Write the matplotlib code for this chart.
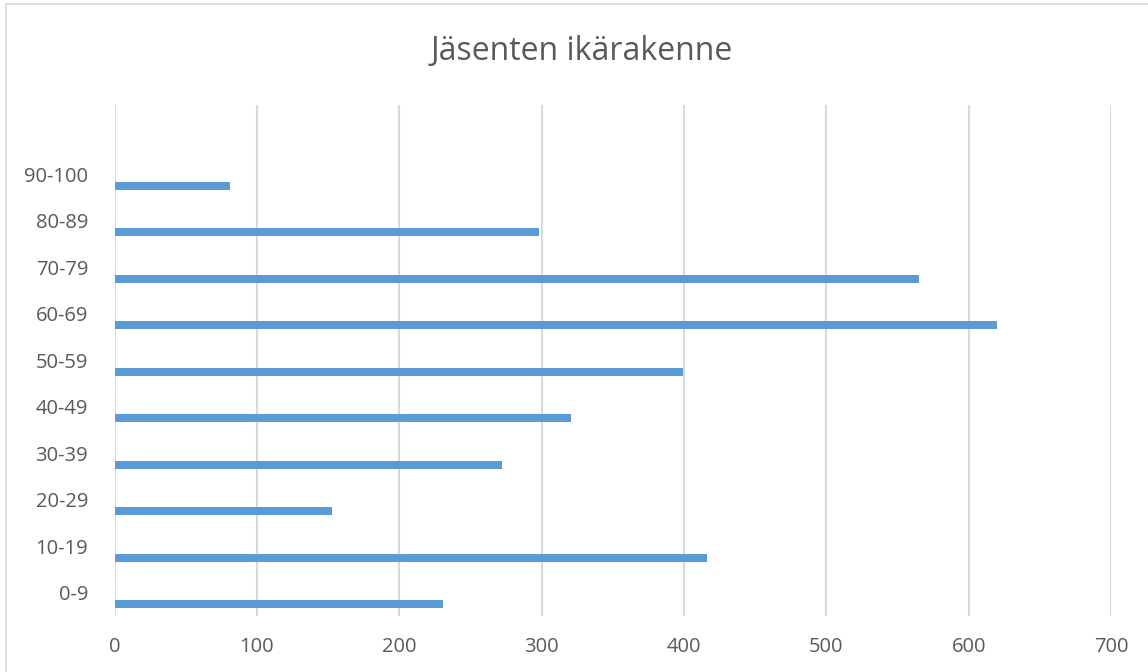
import matplotlib.pyplot as plt
from matplotlib.patches import Rectangle

plt.rcParams['font.family'] = ['Open Sans', 'DejaVu Sans']

# age groups and member counts
groups = ['0-9', '10-19', '20-29', '30-39', '40-49', '50-59', '60-69', '70-79', '80-89', '90-100']
counts = [231, 416, 153, 272, 321, 399, 620, 565, 298, 81]
xticks = [0, 100, 200, 300, 400, 500, 600, 700]

grey = '#595959'

fig = plt.figure(figsize=(11.48, 6.72), dpi=100)
fig.patches.append(Rectangle((6 / 1148, -0.01), 1.2, 1 - 4 / 672 + 0.01,
                             transform=fig.transFigure, fill=False,
                             edgecolor='#D9D9D9', linewidth=1.2))
ax = fig.add_axes([114.5 / 1148, 1 - 616 / 672, (1111 - 114.5) / 1148, (616 - 104.5) / 672])

pos = list(range(len(groups)))
ax.barh([p - 0.25 for p in pos], counts, height=0.17, color='#5B9BD5', zorder=3)

ax.set_xlim(0, 700)
ax.set_ylim(-0.5, 10.5)
ax.set_xticks(xticks)
ax.set_yticks(pos)
ax.set_yticklabels(groups)
ax.grid(axis='x', color='#D9D9D9', linewidth=1.5, zorder=0)
ax.tick_params(axis='both', length=0, labelsize=14.5, labelcolor=grey)
ax.tick_params(axis='x', pad=15)
ax.tick_params(axis='y', pad=19)
for s in ax.spines.values():
    s.set_visible(False)

fig.text(582 / 1148, 1 - 51 / 672, 'Jäsenten ikärakenne', ha='center', va='center',
         fontsize=23, color=grey)

plt.savefig('out.png', dpi=100)
